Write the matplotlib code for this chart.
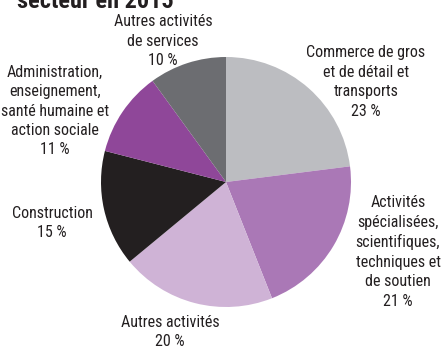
import matplotlib.pyplot as plt

# sector shares, clockwise from 12 o'clock
sectors = [
    "Commerce de gros\net de détail et\ntransports",
    "Activités\nspécialisées,\nscientifiques,\ntechniques et\nde soutien",
    "Autres activités",
    "Construction",
    "Administration,\nenseignement,\nsanté humaine et\naction sociale",
    "Autres activités\nde services",
]
shares = [23, 21, 20, 15, 11, 10]
colors = ["#bcbdc1", "#aa78b6", "#cfb3d6", "#231f20", "#8f4799", "#6c6d71"]

# label anchor (centre of text block) in pixel coords, y from top
label_pos = [(366, 82), (398, 252), (170, 332), (52, 223), (55, 111), (163, 41)]

W, H = 441, 349
plt.rcParams["font.family"] = ["Liberation Sans Narrow", "Roboto Condensed",
                               "Roboto", "DejaVu Sans"]
fig = plt.figure(figsize=(W / 100, H / 100), dpi=100)
ax = fig.add_axes([0, 0, 1, 1])

ax.pie(shares, colors=colors, startangle=90, counterclock=False,
       center=(226, H - 182), radius=125, frame=True,
       wedgeprops=dict(linewidth=0))
ax.set_xlim(0, W)
ax.set_ylim(0, H)
ax.set_aspect("equal")
ax.axis("off")

for name, val, (x, y) in zip(sectors, shares, label_pos):
    ax.text(x, H - y, f"{name}\n{val} %", ha="center", va="center",
            fontsize=11.5, color="#231f20", linespacing=1.37)

# second line of the title, partly cut by the top edge
ax.text(17, H - 8, "secteur en 2015", ha="left", va="baseline",
        fontsize=17.5, fontweight="bold", color="#231f20")

fig.savefig("out.png", dpi=100)
